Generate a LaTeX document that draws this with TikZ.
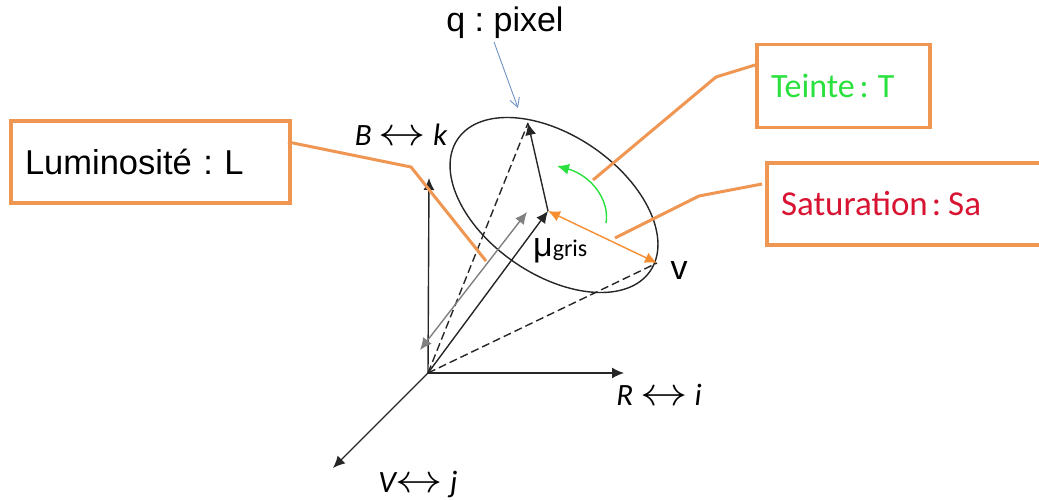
\documentclass[tikz,border=0pt]{standalone}
\usepackage{fontspec}
\setmainfont{Liberation Sans}
\newfontfamily\calfont{Carlito}
\frenchspacing
\usetikzlibrary{arrows.meta}
\definecolor{boxorange}{RGB}{238,150,82}
\definecolor{arcgreen}{RGB}{40,225,60}
\definecolor{satred}{RGB}{215,20,50}
\definecolor{pixblue}{RGB}{110,145,195}
\newcommand{\bothways}{\scalebox{1.9}[1.6]{$\leftrightarrow$}}

\begin{document}
\begin{tikzpicture}[x=1pt, y=1pt,
    >={Latex[length=12pt,width=11pt]},
    vec/.style={->, line width=1.4pt, black!85},
    guide/.style={line width=1.4pt, dash pattern=on 8pt off 4pt, black!85},
    leader/.style={line width=3pt, boxorange, line join=round},
    labelbox/.style={draw=boxorange, line width=3.6pt, rectangle, anchor=west, align=left,
        inner xsep=14pt, inner ysep=0pt, outer sep=0pt, text width=#1},
    axislabel/.style={font=\calfont\itshape\fontsize{31}{36}\selectfont, inner sep=0pt}]
    \useasboundingbox (0,0) rectangle (1039,499);

    % Points
    \coordinate (origin) at (428,126);
    \coordinate (btip) at (429,321);
    \coordinate (rtip) at (624,126);
    \coordinate (vtip) at (333,31);
    \coordinate (pixel) at (528,376);
    \coordinate (mean) at (548,288);
    \coordinate (rim) at (657,236);
    \coordinate (grayend) at (420,149);
    \coordinate (graytip) at (527,287);

    % Cone
    \draw[line width=1.4pt, black!85] (554,294) ellipse [x radius=116.7, y radius=69.6, rotate=-34.5];
    \draw[guide] (origin) -- (pixel);
    \draw[guide] (origin) -- (rim);

    % Axis
    \draw[vec] (origin) -- (btip);
    \draw[vec] (origin) -- (rtip);
    \draw[vec] (origin) -- (vtip);
    \node[axislabel] (blabel) at (401,364) {B \bothways{} k};
    \node[axislabel] (rlabel) at (659,104) {R \bothways{} i};
    \node[axislabel] (vlabel) at (418,15) {V\bothways{} j};

    % Vectors
    \draw[<->, line width=1.4pt, black!50] (grayend) -- (graytip);
    \draw[vec] (origin) -- (mean);
    \draw[vec] (mean) -- (pixel);
    \draw[<->, line width=1.4pt, boxorange!60!orange] (mean) -- (rim);
    \draw[->, line width=1.4pt, arcgreen] (606,276) .. controls (610,300) and (590,324) .. (557,333);

    % Labels
    \node[inner sep=0pt, font=\fontsize{34}{40}\selectfont] (qlabel) at (505,476) {q : pixel};
    \coordinate (qfoot) at (494,457);
    \draw[-{Straight Barb[length=9pt,width=10pt]}, line width=0.9pt, pixblue] (qfoot) -- (518,391);
    \node[inner sep=0pt, anchor=base west] (meanlabel) at (533,243)
        {\fontsize{34}{40}\selectfont μ\calfont\fontsize{24}{28}\selectfont gris};
    \node[inner sep=0pt, font=\fontsize{34}{40}\selectfont] (rimlabel) at (679,228) {v};

    % Boxes
    \node[labelbox=251pt, minimum height=82pt, font=\fontsize{34.5}{40}\selectfont] (lumbox) at (11,337) {Luminosité : L};
    \node[labelbox=145pt, minimum height=83pt, text=arcgreen, font=\calfont\fontsize{34}{40}\selectfont] (teintebox) at (757,413) {Teinte\hspace{5pt}:\hspace{9pt}T};
    \node[labelbox=250pt, minimum height=82pt, text=satred, font=\calfont\fontsize{35}{40}\selectfont] (satbox) at (767,295) {Saturation\hspace{4pt}:\hspace{7pt}Sa};

    % Leaders
    \coordinate (lumstart) at (288,357);
    \coordinate (teintestart) at (755,434);
    \coordinate (satstart) at (762,315);
    \draw[leader] (lumstart) -- (411,332) -- (486,238);
    \draw[leader] (teintestart) -- (716,422) -- (593,319);
    \draw[leader] (satstart) -- (699,303) -- (615,261);
\end{tikzpicture}
\end{document}
